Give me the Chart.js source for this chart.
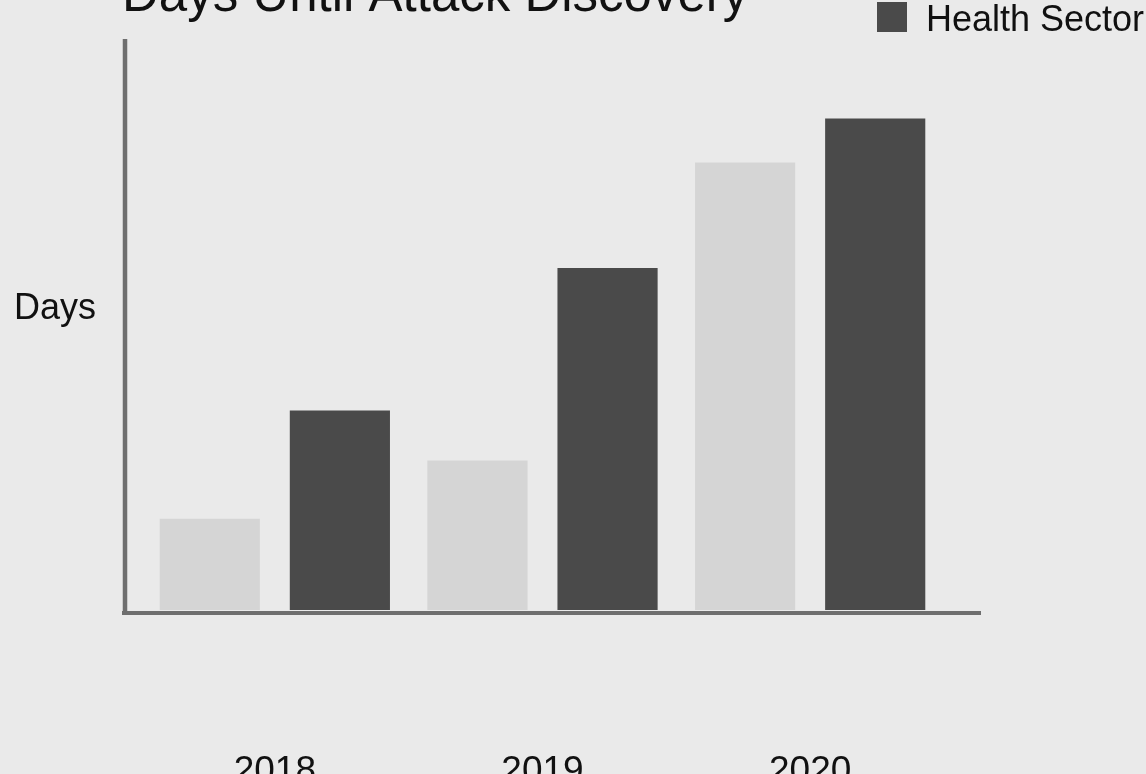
<!DOCTYPE html>
<html>
<head>
<meta charset="utf-8">
<script src="https://cdn.jsdelivr.net/npm/chart.js@4.4.1/dist/chart.umd.min.js"></script>
<style>
  html, body { margin: 0; padding: 0; background: #eaeaea; overflow: hidden; }
  canvas { display: block; }
</style>
</head>
<body>
<canvas id="c" width="1146" height="774"></canvas>
<script>
const categories = ['2018', '2019', '2020'];
const otherLabel = 'All Sectors';
const otherValues = [64, 105, 314];
const healthLabel = 'Health Sector';
const healthValues = [140, 240, 345];
const chartTitle = 'Days Until Attack Discovery';
const yTitle = 'Days';

const FONT = '"Liberation Sans", Arial, sans-serif';

const decor = {
  id: 'decor',
  beforeDraw(chart) {
    const ctx = chart.ctx;
    ctx.save();
    ctx.fillStyle = '#eaeaea';
    ctx.fillRect(0, 0, chart.width, chart.height);
    ctx.restore();
  },
  afterDraw(chart) {
    const ctx = chart.ctx;
    const y = chart.scales.y;
    const area = chart.chartArea;
    const base = y.getPixelForValue(0);
    ctx.save();
    ctx.strokeStyle = '#6e6e6e';
    ctx.lineWidth = 4.5;
    ctx.beginPath();
    ctx.moveTo(125, area.top - 1);
    ctx.lineTo(125, base + 5);
    ctx.stroke();
    ctx.lineWidth = 4;
    ctx.beginPath();
    ctx.moveTo(122, base + 3);
    ctx.lineTo(981, base + 3);
    ctx.stroke();

    ctx.fillStyle = '#111';
    ctx.textAlign = 'left';
    ctx.textBaseline = 'alphabetic';
    ctx.font = '51px ' + FONT;
    ctx.fillText(chartTitle, 122, 11);

    ctx.font = '36px ' + FONT;
    ctx.fillText(yTitle, 14, 319);

    ctx.fillStyle = '#4a4a4a';
    ctx.fillRect(877, 2, 30, 30);
    ctx.fillStyle = '#111';
    ctx.font = '36px ' + FONT;
    ctx.fillText(healthLabel, 926, 31);
    ctx.restore();
  }
};

new Chart(document.getElementById('c'), {
  type: 'bar',
  data: {
    labels: categories,
    datasets: [
      { label: otherLabel, data: otherValues, backgroundColor: '#d5d5d5', borderWidth: 0 },
      { label: healthLabel, data: healthValues, backgroundColor: '#4a4a4a', borderWidth: 0 }
    ]
  },
  options: {
    responsive: false,
    animation: false,
    devicePixelRatio: 1,
    layout: { padding: { left: 141, right: 202, top: 40, bottom: 0 } },
    categoryPercentage: 0.972,
    barPercentage: 0.77,
    plugins: {
      legend: { display: false },
      title: { display: false },
      tooltip: { enabled: false }
    },
    scales: {
      x: {
        grid: { display: false, drawTicks: false },
        border: { display: false },
        ticks: { color: '#111', font: { family: FONT, size: 37 }, padding: 140, maxRotation: 0 },
        afterFit(s) { s.height = 164; }
      },
      y: {
        display: false,
        min: 0,
        max: 400
      }
    }
  },
  plugins: [decor]
});
</script>
</body>
</html>
